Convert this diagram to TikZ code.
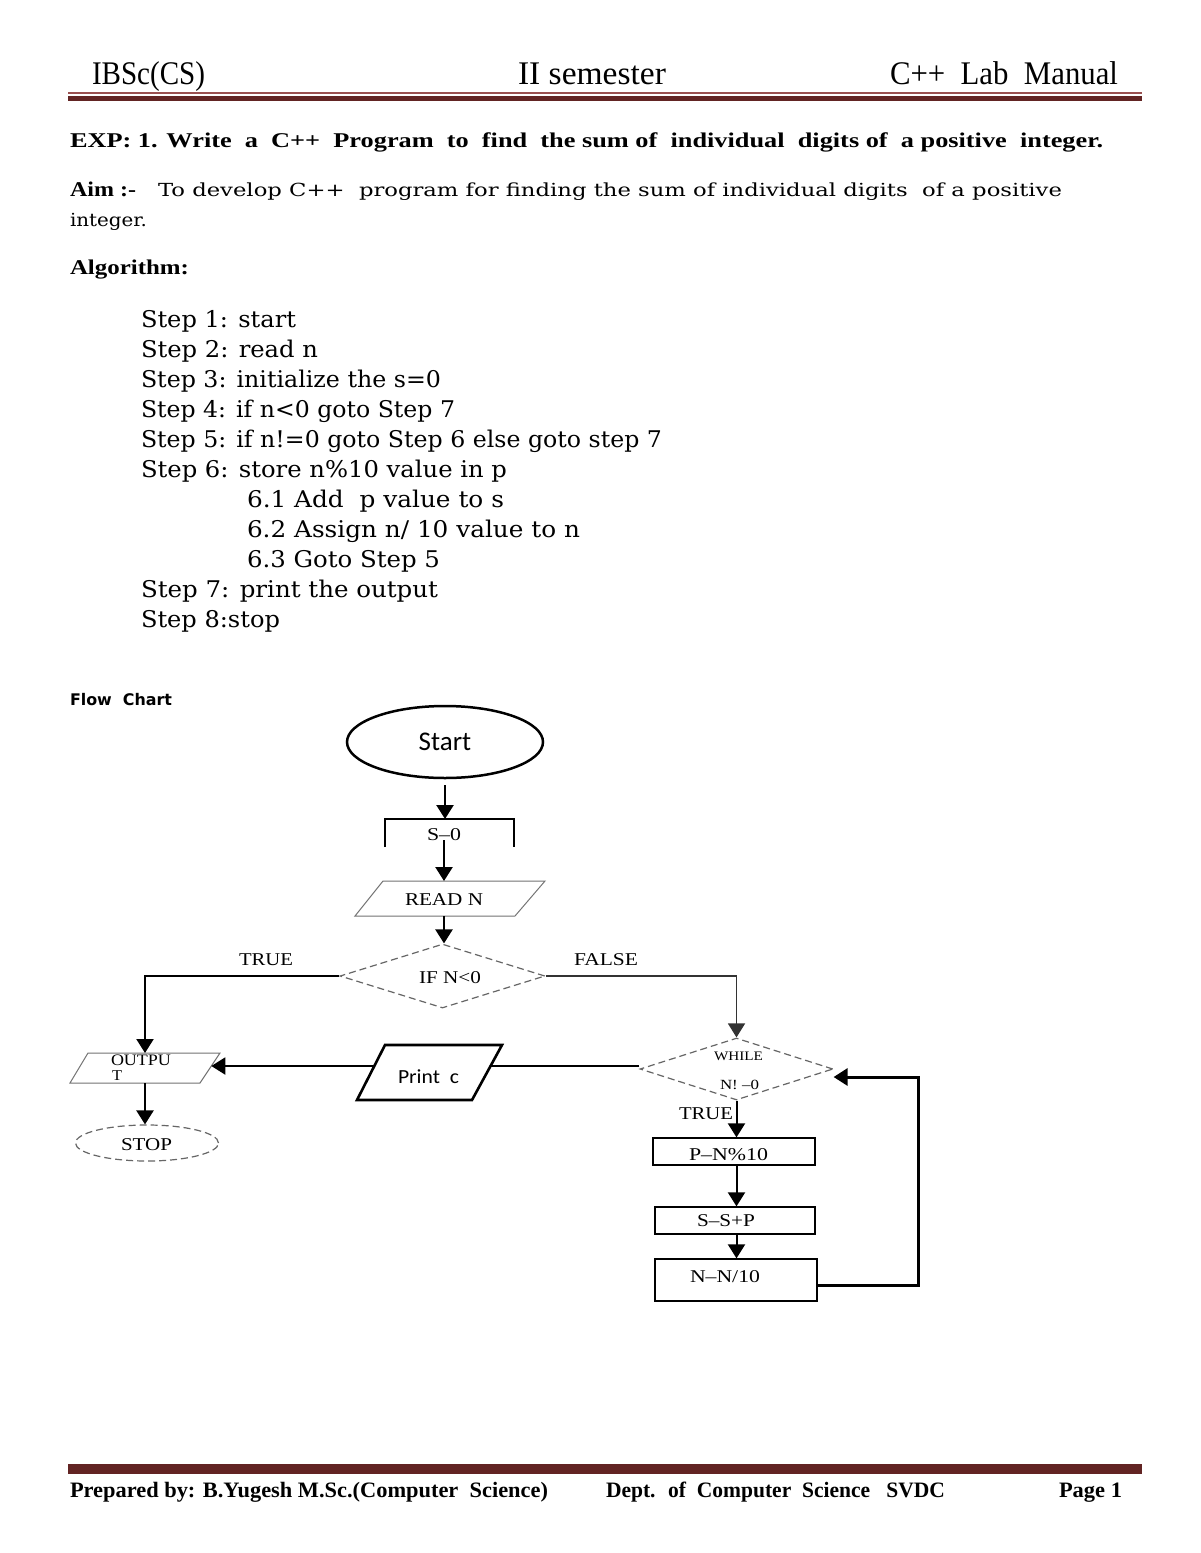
\documentclass[tikz,border=0pt]{standalone}
\usepackage{fontspec}
\usepackage{graphicx}
\usetikzlibrary{shapes.geometric,arrows.meta}
\setmainfont{Liberation Serif}
\newfontfamily\dvserif{DejaVu Serif}
\newfontfamily\dvsans{DejaVu Sans}
\newfontfamily\carl{Carlito}
\newcommand\fw[2]{\resizebox{#1pt}{\height}{#2}}
\newcommand\hdrf{\fontsize{33}{36}\selectfont}
\newcommand\stepf{\dvserif\fontsize{23}{28}\selectfont}
\newcommand\labf{\fontsize{18}{20}\selectfont}
\definecolor{hdrred}{HTML}{622423}
\definecolor{hdrthin}{HTML}{9A5050}
\begin{document}
\begin{tikzpicture}[x=1pt,y=-1pt,
  txt/.style={inner sep=0pt,outer sep=0pt,anchor=base west},
  ctxt/.style={inner sep=0pt,outer sep=0pt,anchor=base},
  arr/.style={-{Triangle[width=17pt,length=14pt]},line width=2.4pt},
  grayshape/.style={draw=black!55,line width=1pt},
  dashshape/.style={draw=black!60,line width=1.2pt,dash pattern=on 7pt off 4pt},
  procbox/.style={draw=black,line width=1.3pt,inner sep=0pt,rectangle},
  frame/.style={inner sep=0pt,outer sep=0pt,rectangle}]
\useasboundingbox[fill=white] (0,0) rectangle (1200,1553);

% header
\node[txt] (h1) at (92,84) {\fw{113}{\hdrf IBSc(CS)}};
\node[txt] (h2) at (518,84) {\fw{148}{\hdrf II semester}};
\node[txt] (h3) at (890,84) {\fw{228}{\hdrf C++ \ Lab \ Manual}};
\fill[hdrthin] (68,92.2) rectangle (1142,93.8);
\fill[hdrred] (68,95.5) rectangle (1142,100.5);

% title lines
\node[txt] (exp) at (70,147) {\fw{1033}{\bfseries\fontsize{21}{24}\selectfont EXP: 1. Write \ a \ C++ \ Program \ to \ find \ the sum of \ individual \ digits of \ a positive \ integer.}};
\node[txt] (aim) at (70,196) {\fw{66}{\bfseries\fontsize{21}{24}\selectfont Aim :-}};
\node[txt] (aimt) at (158,196) {\fw{904}{\dvserif\fontsize{18}{22}\selectfont To develop C++ \ program for finding the sum of individual digits \ of a positive}};
\node[txt] (aimt2) at (70,226) {\fw{77}{\dvserif\fontsize{18}{22}\selectfont integer.}};
\node[txt] (alg) at (70,274) {\fw{119}{\bfseries\fontsize{21}{24}\selectfont Algorithm:}};

% steps
\node[txt] (s1) at (141,327) {\fw{155}{\stepf Step 1: start}};
\node[txt] (s2) at (141,357) {\fw{177}{\stepf Step 2: read n}};
\node[txt] (s3) at (141,387) {\fw{300}{\stepf Step 3: initialize the s=0}};
\node[txt] (s4) at (141,417) {\fw{314}{\stepf Step 4: if n<0 goto Step 7}};
\node[txt] (s5) at (141,447) {\fw{521}{\stepf Step 5: if n!=0 goto Step 6 else goto step 7}};
\node[txt] (s6) at (141,477) {\fw{366}{\stepf Step 6: store n\%10 value in p}};
\node[txt] (s61) at (247,507) {\fw{257}{\stepf 6.1 Add \ p value to s}};
\node[txt] (s62) at (247,537) {\fw{333}{\stepf 6.2 Assign n/ 10 value to n}};
\node[txt] (s63) at (247,567) {\fw{193}{\stepf 6.3 Goto Step 5}};
\node[txt] (s7) at (141,597) {\fw{297}{\stepf Step 7: print the output}};
\node[txt] (s8) at (141,627) {\fw{139}{\stepf Step 8:stop}};

\node[txt] (fc) at (70,705) {\fw{102}{\dvsans\bfseries\fontsize{16}{18}\selectfont Flow \ Chart}};

% flowchart shapes
\node[ellipse,draw,line width=2.5pt,minimum width=196pt,minimum height=72pt,inner sep=0pt] (start) at (445,742) {\carl\fontsize{27}{30}\selectfont Start};
\node[frame,minimum width=129pt,minimum height=28pt] (s0) at (449.5,833) {};
\draw[line width=1.3pt] (s0.south west) -- (s0.north west) -- (s0.north east) -- (s0.south east);
\node[ctxt] (s0t) at (444,840) {\fw{34}{\labf S–0}};

\node[frame,minimum width=190pt,minimum height=35pt] (read) at (450,898.5) {};
\draw[grayshape] (read.south west) -- ([xshift=28pt]read.north west) -- (read.north east) -- ([xshift=-30pt]read.south east) -- cycle;
\node[ctxt] (readt) at (444,905) {\fw{78}{\labf READ N}};

\node[diamond,dashshape,minimum width=205pt,minimum height=64pt,inner sep=0pt] (if) at (442.5,976) {};
\node[ctxt] (ift) at (450,983) {\fw{62}{\labf IF N<0}};
\node[ctxt] (truel) at (266,965) {\fw{54}{\labf TRUE}};
\node[ctxt] (falsel) at (606,965) {\fw{64}{\labf FALSE}};

\node[frame,minimum width=150pt,minimum height=30pt] (output) at (145,1068) {};
\draw[grayshape] (output.south west) -- ([xshift=18pt]output.north west) -- (output.north east) -- ([xshift=-20pt]output.south east) -- cycle;
\node[txt] (outt1) at (111,1065) {\fw{60}{\fontsize{16}{18}\selectfont OUTPU}};
\node[txt] (outt2) at (112,1080) {\fw{10}{\fontsize{15}{18}\selectfont T}};
\coordinate (outr) at ([xshift=-8.7pt,yshift=2pt]output.east);

\node[ellipse,dashshape,minimum width=143pt,minimum height=36pt,inner sep=0pt] (stop) at (147,1143) {};
\node[ctxt] (stopt) at (146.5,1150) {\fw{51}{\labf STOP}};

\node[frame,minimum width=145pt,minimum height=55pt] (print) at (429.5,1072.5) {};
\draw[line width=2.6pt,line join=miter] (print.south west) -- ([xshift=28pt]print.north west) -- (print.north east) -- ([xshift=-30pt]print.south east) -- cycle;
\node[ctxt] (printt) at (428.5,1083) {\fw{61}{\carl\fontsize{20}{22}\selectfont Print \ c}};
\coordinate (printr) at ([xshift=-11.5pt,yshift=6.5pt]print.east);
\coordinate (printl) at ([xshift=17.3pt,yshift=6.5pt]print.west);

\node[diamond,dashshape,minimum width=193pt,minimum height=62pt,inner sep=0pt] (while) at (736.5,1069) {};
\node[ctxt] (whilet1) at (738.5,1060) {\fw{49}{\fontsize{13}{14}\selectfont WHILE}};
\node[ctxt] (whilet2) at (739.5,1089) {\fw{39}{\fontsize{14}{15}\selectfont N! –0}};
\node[ctxt] (true2) at (706,1119) {\fw{54}{\labf TRUE}};

\node[procbox,minimum width=162pt,minimum height=27pt] (pbox) at (734,1151.5) {};
\node[ctxt] (pt) at (728.5,1160) {\fw{79}{\labf P–N\%10}};
\node[procbox,minimum width=160pt,minimum height=27pt] (sbox) at (735,1220.5) {};
\node[ctxt] (st) at (726,1226) {\fw{58}{\labf S–S+P}};
\node[procbox,minimum width=162pt,minimum height=42pt] (nbox) at (736,1280) {};
\node[ctxt] (nt) at (725,1282) {\fw{70}{\labf N–N/10}};

% connectors
\draw[arr] ([yshift=-6pt]start.south) -- (start.south |- s0.north);
\draw[arr] (s0t.south) -- (s0t.south |- read.north);
\draw[arr] (readt.south |- read.south) -- (readt.south |- if.north);
\draw[arr,line width=2.2pt] (if.west) -| (output.north);
\draw[arr,line width=1.6pt,draw=black!80] (if.east) -| (while.north);
\draw[line width=2pt] ([yshift=3pt]while.west) -- (printr);
\draw[arr,line width=2pt] (printl) -- (outr);
\draw[arr] (output.south) -- (output.south |- stop.north);
\draw[arr,line width=2pt] (while.south) -- (while.south |- pbox.north);
\draw[arr,line width=2pt] (while.south |- pbox.south) -- (while.south |- sbox.north);
\draw[arr,line width=2pt] (while.south |- sbox.south) -- (while.south |- nbox.north);
\coordinate (lc) at (918,1077);
\draw[arr,line width=3pt] ([yshift=-5pt]nbox.east) -| (lc) -- ([yshift=-8pt]while.east);

% footer
\fill[hdrred] (68,1464) rectangle (1142,1473.5);
\node[txt] (f1) at (70,1497) {\fw{478}{\bfseries\fontsize{22}{24}\selectfont Prepared by: B.Yugesh M.Sc.(Computer \ Science)}};
\node[txt] (f2) at (606,1497) {\fw{339}{\bfseries\fontsize{22}{24}\selectfont Dept. \ of \ Computer \ Science \ \ SVDC}};
\node[txt] (f3) at (1059,1497) {\fw{63}{\bfseries\fontsize{22}{24}\selectfont Page 1}};
\end{tikzpicture}
\end{document}
